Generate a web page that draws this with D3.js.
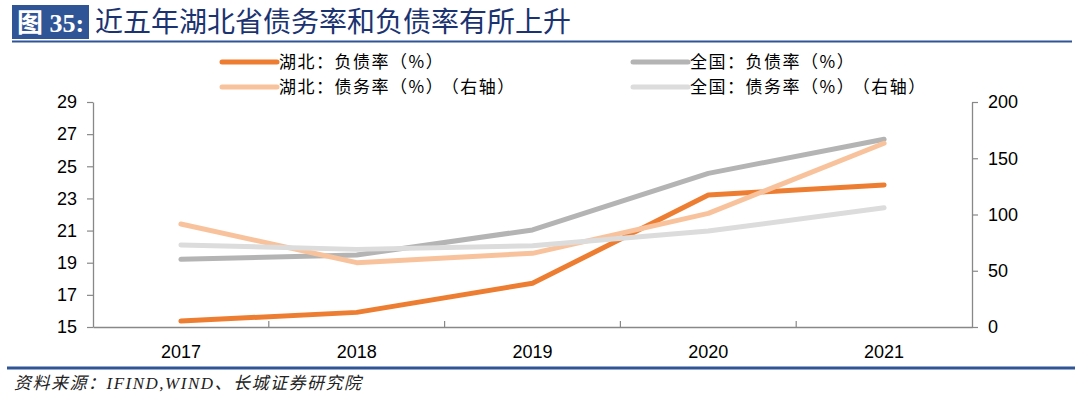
<!DOCTYPE html>
<html>
<head>
<meta charset="utf-8">
<script src="https://cdnjs.cloudflare.com/ajax/libs/d3/7.8.5/d3.min.js"></script>
<style>
  body { margin: 0; background: #fff; }
  svg { display: block; }
</style>
</head>
<body>
<svg id="chart" width="1080" height="396"></svg>
<script>
var years = ["2017", "2018", "2019", "2020", "2021"];
var hubeiDebtRatio = [15.37, 15.91, 17.72, 23.21, 23.84];     // 湖北 负债率 (left)
var nationDebtRatio = [19.21, 19.48, 21.04, 24.56, 26.68];    // 全国 负债率 (left)
var hubeiDebtBurden = [91.6, 57.2, 65.5, 101.0, 163.3];       // 湖北 债务率 (right)
var nationDebtBurden = [72.9, 69.0, 72.3, 85.3, 106.0];       // 全国 债务率 (right)
var leftTicks = [15, 17, 19, 21, 23, 25, 27, 29];
var rightTicks = [0, 50, 100, 150, 200];

var cjk = "'Noto Sans CJK SC', 'Noto Sans', sans-serif";
var latin = "'Liberation Sans', Arial, sans-serif";

var svg = d3.select("#chart");

// title bar
svg.append("rect").attr("x", 12).attr("y", 5).attr("width", 77).attr("height", 34).attr("fill", "#2F5597");
svg.append("text").attr("x", 17).attr("y", 32)
   .attr("font-family", "'Liberation Serif', 'Noto Sans CJK SC', serif").attr("font-weight", "bold")
   .attr("font-size", "26px").attr("fill", "#fff").text("图 35:");
svg.append("text").attr("x", 95).attr("y", 32)
   .attr("font-family", cjk).attr("font-size", "28px").attr("fill", "#1B3370")
   .text("近五年湖北省债务率和负债率有所上升");
svg.append("line").attr("x1", 12).attr("x2", 1072).attr("y1", 41.5).attr("y2", 41.5)
   .attr("stroke", "#2F5597").attr("stroke-width", 2);

var x0 = 93, x1 = 972, yTop = 102, yBot = 327;

var xScale = d3.scaleBand().domain(years).range([x0, x1]);
var yLeft = d3.scaleLinear().domain([15, 29]).range([yBot, yTop]);
var yRight = d3.scaleLinear().domain([0, 200]).range([yBot, yTop]);

var axisColor = "#888";

var gx = svg.append("g").attr("transform", "translate(0," + yBot + ")")
   .call(d3.axisBottom(xScale).tickSize(0).tickPadding(18));
gx.select(".domain").attr("stroke", axisColor).attr("stroke-width", 1.3);
gx.selectAll("text").attr("font-family", latin).attr("font-size", "18px").attr("fill", "#000");
// band boundary ticks pointing up
gx.selectAll(".bt").data(years.slice(1)).enter().append("line")
  .attr("x1", function(d) { return xScale(d); }).attr("x2", function(d) { return xScale(d); })
  .attr("y1", 0).attr("y2", -6).attr("stroke", axisColor).attr("stroke-width", 1.2);

var gl = svg.append("g").attr("transform", "translate(" + x0 + ",0)")
   .call(d3.axisLeft(yLeft).tickValues(leftTicks).tickSize(6).tickSizeOuter(0).tickPadding(10));
gl.select(".domain").attr("stroke", axisColor).attr("stroke-width", 1.3);
gl.selectAll(".tick line").attr("stroke", axisColor).attr("stroke-width", 1.2);
gl.selectAll("text").attr("font-family", latin).attr("font-size", "18px").attr("fill", "#000");

var gr = svg.append("g").attr("transform", "translate(" + x1 + ",0)")
   .call(d3.axisRight(yRight).tickValues(rightTicks).tickSize(6).tickSizeOuter(0).tickPadding(10));
gr.select(".domain").attr("stroke", axisColor).attr("stroke-width", 1.3);
gr.selectAll(".tick line").attr("stroke", axisColor).attr("stroke-width", 1.2);
gr.selectAll("text").attr("font-family", latin).attr("font-size", "18px").attr("fill", "#000");

var series = [
  { name: "湖北：负债率（%）", extra: "", values: hubeiDebtRatio, scale: yLeft, color: "#ED7D31" },
  { name: "全国：负债率（%）", extra: "", values: nationDebtRatio, scale: yLeft, color: "#B4B4B4" },
  { name: "湖北：债务率（%）", extra: "（右轴）", values: hubeiDebtBurden, scale: yRight, color: "#F8C39C" },
  { name: "全国：债务率（%）", extra: "（右轴）", values: nationDebtBurden, scale: yRight, color: "#DCDCDC" }
];

series.forEach(function(s) {
  var line = d3.line()
    .x(function(d, i) { return xScale(years[i]) + xScale.bandwidth() / 2; })
    .y(function(d) { return s.scale(d); });
  svg.append("path").datum(s.values)
     .attr("d", line).attr("fill", "none").attr("stroke", s.color)
     .attr("stroke-width", 5).attr("stroke-linecap", "round").attr("stroke-linejoin", "round");
});

// legend: 湖北 column left, 全国 column right
var legendPos = [
  { s: series[0], x: 222, y: 62 },
  { s: series[2], x: 222, y: 87 },
  { s: series[1], x: 633, y: 62 },
  { s: series[3], x: 633, y: 87 }
];
legendPos.forEach(function(p) {
  svg.append("line").attr("x1", p.x).attr("x2", p.x + 55).attr("y1", p.y).attr("y2", p.y)
     .attr("stroke", p.s.color).attr("stroke-width", 5).attr("stroke-linecap", "round");
  var t = svg.append("text").attr("x", p.x + 57).attr("y", p.y + 6)
     .attr("font-family", cjk).attr("font-size", "17px").attr("letter-spacing", "1.5px")
     .attr("fill", "#000")
     .text(p.s.name);
  if (p.s.extra) t.append("tspan").attr("dx", 6).text(p.s.extra);
});

// footer
svg.append("line").attr("x1", 7).attr("x2", 1075).attr("y1", 368).attr("y2", 368)
   .attr("stroke", "#2F5597").attr("stroke-width", 3);
svg.append("text").attr("x", 14).attr("y", 389)
   .attr("font-family", "'Liberation Serif', 'Noto Sans CJK SC', serif").attr("font-style", "italic")
   .attr("font-size", "17px").attr("letter-spacing", "1.5px").attr("fill", "#222")
   .text("资料来源：IFIND,WIND、长城证券研究院");
</script>
</body>
</html>
